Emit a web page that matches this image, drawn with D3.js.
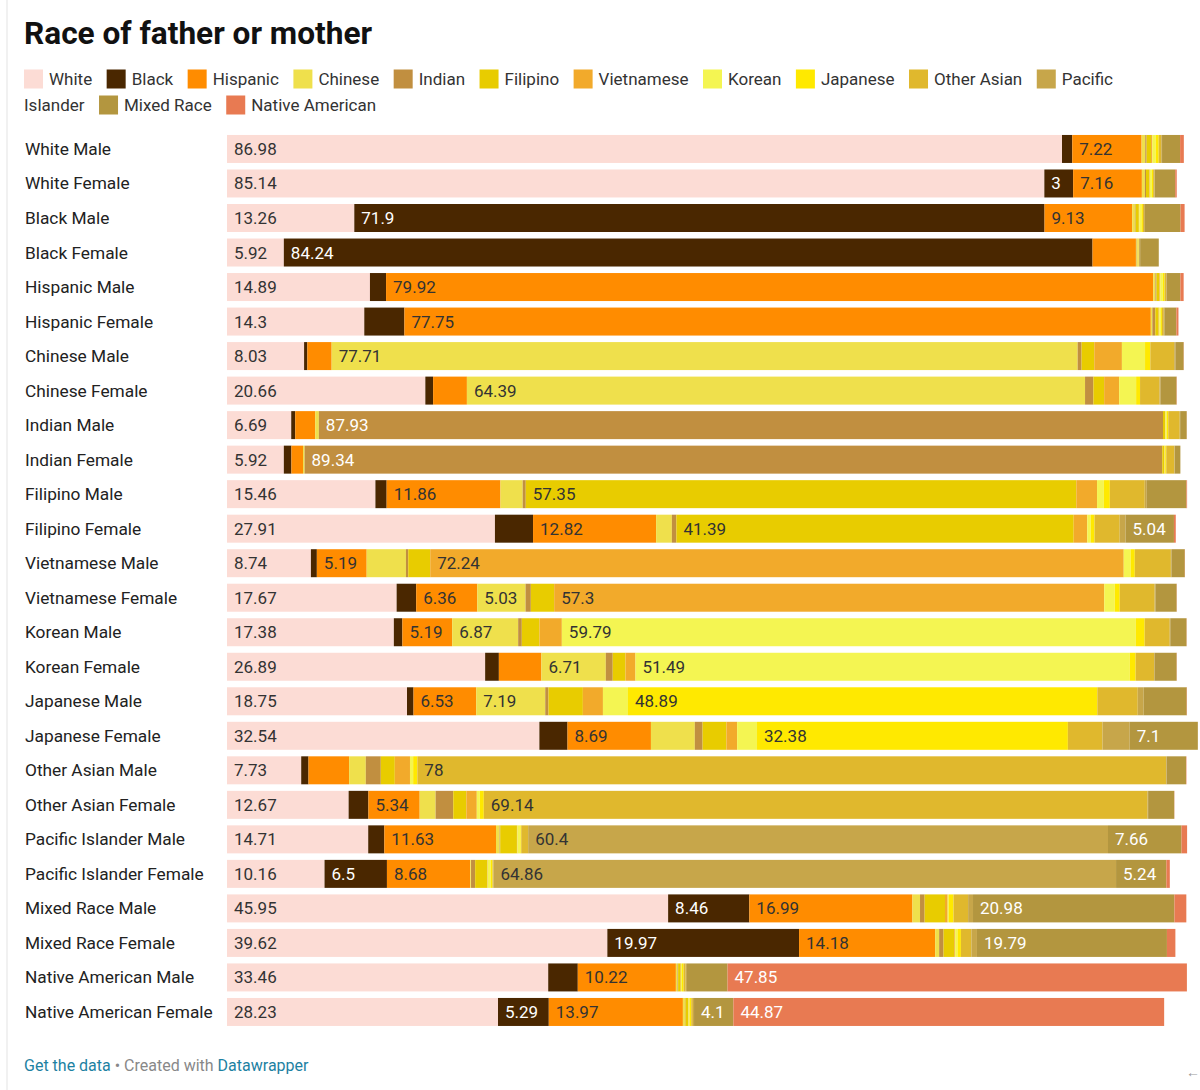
<!DOCTYPE html>
<html>
<head>
<meta charset="utf-8">
<script src="https://cdnjs.cloudflare.com/ajax/libs/d3/7.8.5/d3.min.js"></script>
<style>
  body { margin: 0; background: #fff; font-family: Roboto, "Noto Sans", sans-serif; }
  #chart { width: 1200px; height: 1090px; overflow: hidden; }
</style>
</head>
<body>
<div id="chart"></div>
<script>
// rows, top to bottom
var rowLabels = ["White Male", "White Female", "Black Male", "Black Female",
  "Hispanic Male", "Hispanic Female", "Chinese Male", "Chinese Female",
  "Indian Male", "Indian Female", "Filipino Male", "Filipino Female",
  "Vietnamese Male", "Vietnamese Female", "Korean Male", "Korean Female",
  "Japanese Male", "Japanese Female", "Other Asian Male", "Other Asian Female",
  "Pacific Islander Male", "Pacific Islander Female", "Mixed Race Male",
  "Mixed Race Female", "Native American Male", "Native American Female"];

// series (stack order)
var races = ["White", "Black", "Hispanic", "Chinese", "Indian", "Filipino", "Vietnamese",
  "Korean", "Japanese", "Other Asian", "Pacific Islander", "Mixed Race", "Native American"];
var raceColors = ["#fcdcd5", "#4a2700", "#ff8c00", "#efe04c", "#c18f40", "#e8cc00", "#f2aa2b",
  "#f4f552", "#ffe900", "#e0b82d", "#c7a64a", "#b3963f", "#e87a52"];
// series whose value labels are white
var lightLabelRaces = ["Black", "Indian", "Mixed Race", "Native American"];

// values per series, one per row (percent)
var white      = [86.98, 85.14, 13.26, 5.92, 14.89, 14.3, 8.03, 20.66, 6.69, 5.92, 15.46, 27.91, 8.74, 17.67, 17.38, 26.89, 18.75, 32.54, 7.73, 12.67, 14.71, 10.16, 45.95, 39.62, 33.46, 28.23];
var black      = [1.07, 3, 71.9, 84.24, 1.68, 4.18, 0.34, 0.81, 0.42, 0.79, 1.17, 3.97, 0.62, 2.04, 0.89, 1.43, 0.68, 2.93, 0.76, 2.06, 1.68, 6.5, 8.46, 19.97, 3.08, 5.29];
var hispanic   = [7.22, 7.16, 9.13, 4.52, 79.92, 77.75, 2.53, 3.52, 2.08, 1.21, 11.86, 12.82, 5.19, 6.36, 5.19, 4.43, 6.53, 8.69, 4.23, 5.34, 11.63, 8.68, 16.99, 14.18, 10.22, 13.97];
var chinese    = [0.38, 0.31, 0.28, 0.08, 0.22, 0.16, 77.71, 64.39, 0.38, 0.16, 2.31, 1.64, 4.09, 5.03, 6.87, 6.71, 7.19, 4.57, 1.74, 1.66, 0.38, 0.08, 0.79, 0.41, 0.17, 0.21];
var indian     = [0.14, 0.12, 0.07, 0.03, 0.11, 0.31, 0.41, 0.87, 87.93, 89.34, 0.32, 0.47, 0.24, 0.55, 0.38, 0.72, 0.34, 0.81, 1.56, 1.84, 0.06, 0.43, 0.48, 0.46, 0.06, 0.05];
var filipino   = [0.47, 0.34, 0.34, 0.06, 0.31, 0.34, 1.32, 1.12, 0.21, 0.22, 57.35, 41.39, 2.29, 2.43, 1.84, 1.33, 3.58, 2.48, 1.46, 1.36, 1.74, 1.27, 2.12, 1.12, 0.26, 0.31];
var vietnamese = [0.12, 0.06, 0.05, 0.02, 0.09, 0.07, 2.88, 1.56, 0.04, 0.03, 2.16, 1.41, 72.24, 57.3, 2.33, 1.04, 2.09, 1.12, 1.58, 1.09, 0.05, 0.04, 0.28, 0.09, 0.04, 0.03];
var korean     = [0.36, 0.21, 0.22, 0.05, 0.26, 0.17, 2.41, 1.77, 0.14, 0.06, 0.71, 0.36, 0.71, 1.09, 59.79, 51.49, 2.61, 2.07, 0.33, 0.31, 0.31, 0.31, 0.12, 0.24, 0.09, 0.08];
var japanese   = [0.31, 0.13, 0.16, 0.04, 0.18, 0.11, 0.55, 0.41, 0.16, 0.11, 0.62, 0.4, 0.44, 0.52, 0.92, 0.61, 48.89, 32.38, 0.44, 0.42, 0.09, 0.19, 0.49, 0.36, 0.18, 0.19];
var otherAsian = [0.27, 0.12, 0.12, 0.05, 0.16, 0.19, 2.49, 2.03, 1.19, 0.84, 3.64, 2.62, 3.76, 3.64, 2.61, 1.92, 4.21, 3.61, 78, 69.14, 0.72, 0.09, 1.52, 1.09, 0.21, 0.17];
var pacific    = [0.08, 0.06, 0.09, 0.11, 0.07, 0.06, 0.12, 0.09, 0.05, 0.04, 0.21, 0.61, 0.07, 0.08, 0.06, 0.07, 0.62, 2.83, 0.04, 0.06, 60.4, 64.86, 0.51, 0.58, 0.14, 0.12];
var mixedRace  = [1.88, 2.12, 3.71, 1.94, 1.42, 1.25, 0.86, 1.68, 0.68, 0.59, 4.13, 5.04, 1.38, 2.21, 1.69, 2.28, 4.48, 7.1, 2.03, 2.72, 7.66, 5.24, 20.98, 19.79, 4.23, 4.1];
var nativeAm   = [0.39, 0.16, 0.42, 0, 0.34, 0.22, 0.02, 0.03, 0.01, 0, 0.07, 0.19, 0.02, 0.02, 0.02, 0.02, 0.03, 0, 0.04, 0.02, 0.58, 0.36, 1.24, 0.88, 47.85, 44.87];

var seriesValues = [white, black, hispanic, chinese, indian, filipino, vietnamese,
  korean, japanese, otherAsian, pacific, mixedRace, nativeAm];

/** Layout **/
var layout = {
  width: 1200, height: 1090,
  bars: {left: 227, right: 1187, top: 131.7, step: 34.52, pad: 0.189},
  legend: {left: 24, right: 1164, top: 79, lineHeight: 26, swatch: 19, gap: 6, itemGap: 14.5},
  labelX: 25
};

var svg = d3.select("#chart").append("svg")
  .attr("width", layout.width)
  .attr("height", layout.height);

// faint frame line on the left
svg.append("line")
  .attr("x1", 7).attr("x2", 7).attr("y1", 0).attr("y2", layout.height)
  .attr("stroke", "#ececec").attr("stroke-width", 1.5);

// title
svg.append("text")
  .attr("x", 24).attr("y", 44)
  .style("font-size", "31.6px").style("font-weight", 700).style("fill", "#111")
  .text("Race of father or mother");

// legend, words wrap onto the next line when they do not fit
drawLegend();

function drawLegend() {
  var L = layout.legend;
  var g = svg.append("g").attr("class", "legend");
  var cx = L.left, line = 0;
  function measure(str) {
    var t = g.append("text").style("font-size", "17px").text(str);
    var w = t.node().getComputedTextLength();
    t.remove();
    return w;
  }
  var spaceW = measure("a b") - measure("ab");
  races.forEach(function (name, i) {
    if (cx + L.swatch + L.gap + measure(name.split(" ")[0]) > L.right) { line++; cx = L.left; }
    var cy = L.top + line * L.lineHeight;
    g.append("rect")
      .attr("x", cx).attr("y", cy - 9.5)
      .attr("width", L.swatch).attr("height", L.swatch)
      .attr("fill", raceColors[i]);
    cx += L.swatch + L.gap;
    var words = name.split(" ");
    var chunk = "", chunkX = cx;
    words.forEach(function (w) {
      var trial = chunk ? chunk + " " + w : w;
      if (chunk && chunkX + measure(trial) > L.right) {
        g.append("text").attr("x", chunkX).attr("y", L.top + line * L.lineHeight + 6)
          .style("font-size", "17px").style("fill", "#333").text(chunk);
        line++; chunkX = L.left; chunk = w;
      } else {
        chunk = trial;
      }
    });
    g.append("text").attr("x", chunkX).attr("y", L.top + line * L.lineHeight + 6)
      .style("font-size", "17px").style("fill", "#333").text(chunk);
    cx = chunkX + measure(chunk) + L.itemGap;
  });
}

// rows -> stacked data
var rows = rowLabels.map(function (name, i) {
  var o = {name: name};
  races.forEach(function (r, j) { o[r] = seriesValues[j][i]; });
  return o;
});
var stacked = d3.stack().keys(races)(rows);

var x = d3.scaleLinear().domain([0, 100]).range([layout.bars.left, layout.bars.right]);
var y = d3.scaleBand().domain(rowLabels)
  .range([layout.bars.top, layout.bars.top + rowLabels.length * layout.bars.step])
  .paddingInner(layout.bars.pad).paddingOuter(layout.bars.pad / 2);
var bw = y.bandwidth();

// row labels
svg.append("g").selectAll("text").data(rowLabels).enter()
  .append("text")
  .attr("x", layout.labelX)
  .attr("y", function (d) { return y(d) + bw / 2 + 6; })
  .style("font-size", "17.3px").style("fill", "#222")
  .text(function (d) { return d; });

// bars
var layers = svg.append("g").selectAll("g.layer").data(stacked).enter()
  .append("g").attr("class", "layer")
  .attr("fill", function (d, i) { return raceColors[i]; });

layers.selectAll("rect").data(function (d) { return d; }).enter()
  .append("rect")
  .attr("x", function (d) { return x(d[0]); })
  .attr("y", function (d) { return y(d.data.name); })
  .attr("width", function (d) { return Math.max(0, x(d[1]) - x(d[0])); })
  .attr("height", bw);

// value labels, only where they fit
var labelLayers = svg.append("g").selectAll("g.vlayer").data(stacked).enter()
  .append("g").attr("class", "vlayer");

labelLayers.each(function (layer) {
  var g = d3.select(this);
  var light = lightLabelRaces.indexOf(layer.key) >= 0;
  layer.forEach(function (d) {
    var v = d.data[layer.key];
    if (!v) return;
    var w = x(d[1]) - x(d[0]);
    var t = g.append("text")
      .attr("x", x(d[0]) + 7)
      .attr("y", y(d.data.name) + bw / 2 + 6)
      .style("font-size", "17px")
      .style("fill", light ? "#ffffff" : "#333333")
      .text(String(v));
    if (t.node().getComputedTextLength() + 14 > w) t.remove();
  });
});

// footer
var foot = svg.append("text")
  .attr("x", 24).attr("y", 1071)
  .style("font-size", "16px");
foot.append("tspan").style("fill", "#1d81a2").text("Get the data");
foot.append("tspan").style("fill", "#888").text(" \u2022 Created with ");
foot.append("tspan").style("fill", "#1d81a2").text("Datawrapper");

svg.append("text")
  .attr("x", 1186).attr("y", 1077)
  .style("font-size", "14px").style("fill", "#999")
  .text("\u2190");
</script>
</body>
</html>
